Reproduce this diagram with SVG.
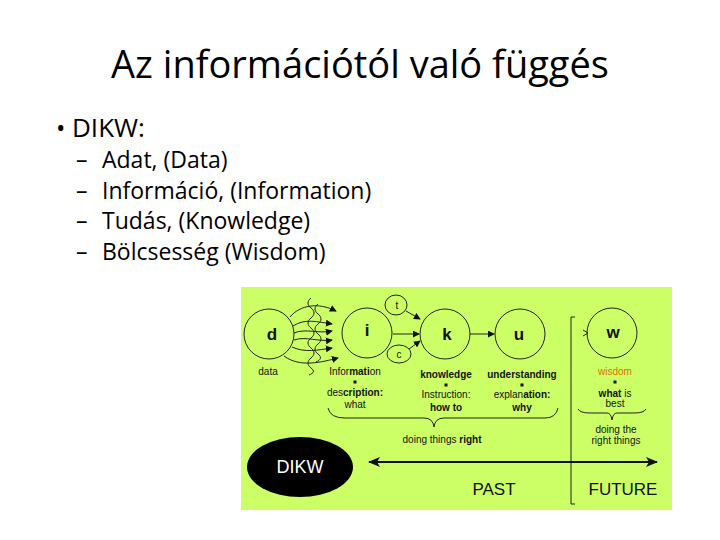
<svg xmlns="http://www.w3.org/2000/svg" width="720" height="540" viewBox="0 0 720 540">
<defs>
<style>
.slide{font-family:"Open Sans","Noto Sans",sans-serif;fill:#000}
.lbl{font-family:"Liberation Sans",Arial,sans-serif;font-size:10px;fill:#111;text-anchor:middle}
.b{font-weight:bold}
.big{font-family:"Liberation Sans",Arial,sans-serif;font-weight:bold;font-size:17px;fill:#111;text-anchor:middle}
.node{fill:none;stroke:#222;stroke-width:1}
.ln{fill:none;stroke:#222;stroke-width:1}
.thick{fill:none;stroke:#111;stroke-width:2}
</style>
<marker id="ah" viewBox="0 0 8 8" refX="7" refY="4" markerWidth="7" markerHeight="7" markerUnits="userSpaceOnUse" orient="auto">
<path d="M0,0 L8,4 L0,8 z" fill="#111"/>
</marker>
<marker id="ah2" viewBox="0 0 12 10" refX="11" refY="5" markerWidth="12" markerHeight="10" markerUnits="userSpaceOnUse" orient="auto-start-reverse">
<path d="M0,0 L12,5 L0,10 L3,5 z" fill="#111"/>
</marker>
</defs>
<rect width="720" height="540" fill="#fff"/>
<g id="title">
<text class="slide" x="360" y="78" font-size="38" text-anchor="middle">Az információtól való függés</text>
</g>
<g id="bullets" class="slide">
<text x="56" y="137" font-size="25">•</text>
<text x="72" y="137" font-size="26">DIKW:</text>
<text x="76" y="168" font-size="23">–</text>
<text x="102" y="168" font-size="23">Adat, (Data)</text>
<text x="76" y="199" font-size="23">–</text>
<text x="102" y="199" font-size="23">Információ, (Information)</text>
<text x="76" y="229" font-size="23">–</text>
<text x="102" y="229" font-size="23">Tudás, (Knowledge)</text>
<text x="76" y="260" font-size="23">–</text>
<text x="102" y="260" font-size="23">Bölcsesség (Wisdom)</text>
</g>
<rect id="panel" x="241" y="287" width="431" height="223" fill="#ccff66"/>
<g id="connectors">
<path class="ln" d="M290,317 C300,305 318,302 336,311" marker-end="url(#ah)"/>
<path class="ln" d="M293,326 C305,318 318,322 332,324" marker-end="url(#ah)"/>
<path class="ln" d="M294,333 C306,328 318,334 332,331" marker-end="url(#ah)"/>
<path class="ln" d="M294,340 C306,336 318,342 332,340" marker-end="url(#ah)"/>
<path class="ln" d="M292,347 C305,353 318,350 332,348" marker-end="url(#ah)"/>
<path class="ln" d="M284,356 C300,368 322,362 338,358" marker-end="url(#ah)"/>
<path class="ln" d="M311,298 c-4,3 -4,7 0,10 c4,3 4,7 0,10 c-4,3 -4,7 0,10 c4,3 4,7 0,10 c-4,3 -4,7 0,10 c4,3 4,7 0,10 c-4,3 -4,7 0,10 c4,3 3,5 -2,7"/>
<path class="ln" d="M318,304 c-4,3 -4,7 0,10 c4,3 4,7 0,10 c-4,3 -4,7 0,10 c4,3 4,7 0,10 c-4,3 -4,7 0,10 c4,3 3,6 -2,8"/>
<line class="ln" x1="393" y1="334" x2="419" y2="334" marker-end="url(#ah)"/>
<line class="ln" x1="470" y1="334" x2="494" y2="334" marker-end="url(#ah)"/>
<line class="ln" x1="406" y1="311" x2="420" y2="319" marker-end="url(#ah)"/>
<line class="ln" x1="409" y1="349" x2="420" y2="341" marker-end="url(#ah)"/>
<path class="ln" d="M583,330 L588,333 L583,336"/>
<path class="ln" d="M328,408 Q330,418 345,418 L424,418 Q433,418 434,427 Q435,418 444,418 L545,418 Q556,418 558,408"/>
<path class="ln" d="M578,409 Q580,413 590,413 L607,413 Q611,413 612,420 Q613,413 617,413 L634,413 Q644,413 646,409"/>
<path class="ln" d="M575,317 L571,317 L571,504 L575,504"/>
<line class="thick" x1="369" y1="462" x2="657" y2="462" marker-start="url(#ah2)" marker-end="url(#ah2)"/>
</g>
<g id="node-d">
<circle class="node" cx="269" cy="334" r="25"/>
<text class="big" x="272" y="340">d</text>
<text class="lbl" x="268" y="375">data</text>
</g>
<g id="node-i">
<circle class="node" cx="367" cy="333" r="25"/>
<text class="big" x="367" y="336">i</text>
<text class="lbl" x="355" y="375">Infor<tspan class="b">mati</tspan>on</text>
<rect x="353.5" y="380.5" width="3" height="3" fill="#111"/>
<text class="lbl" x="355" y="396">des<tspan class="b">cription:</tspan></text>
<text class="lbl" x="355" y="408">what</text>
</g>
<g id="node-t">
<ellipse class="node" cx="396" cy="305" rx="11" ry="10"/>
<text class="lbl" x="397" y="309" font-size="11">t</text>
</g>
<g id="node-c">
<ellipse class="node" cx="399" cy="354" rx="12" ry="9"/>
<text class="lbl" x="399" y="358" font-size="11">c</text>
</g>
<g id="node-k">
<circle class="node" cx="445" cy="334" r="25"/>
<text class="big" x="447" y="340">k</text>
<text class="lbl b" x="446" y="378">knowledge</text>
<rect x="444.5" y="383.5" width="3" height="3" fill="#111"/>
<text class="lbl" x="446" y="398">Instruction:</text>
<text class="lbl b" x="446" y="411">how to</text>
</g>
<g id="node-u">
<circle class="node" cx="520" cy="334" r="25"/>
<text class="big" x="519" y="340">u</text>
<text class="lbl b" x="522" y="378">understanding</text>
<rect x="520.5" y="383.5" width="3" height="3" fill="#111"/>
<text class="lbl" x="522" y="398">explan<tspan class="b">ation:</tspan></text>
<text class="lbl b" x="522" y="411">why</text>
</g>
<g id="node-w">
<circle class="node" cx="612" cy="333" r="25"/>
<text class="big" x="613" y="338" font-size="15">w</text>
<text class="lbl" x="615" y="375" style="fill:#e07000">wisdom</text>
<rect x="613.5" y="380.5" width="3" height="3" fill="#111"/>
<text class="lbl" x="615" y="397"><tspan class="b">what</tspan> is</text>
<text class="lbl" x="615" y="407">best</text>
</g>
<g id="labels">
<text class="lbl" x="442" y="443">doing things <tspan class="b">right</tspan></text>
<text class="lbl" x="616" y="433">doing the</text>
<text class="lbl" x="616" y="444">right things</text>
</g>
<g id="node-dikw">
<ellipse cx="300" cy="467" rx="53" ry="30" fill="#000"/>
<text x="300" y="473" font-family="Liberation Sans, Arial, sans-serif" font-size="18" fill="#fff" text-anchor="middle">DIKW</text>
</g>
<g id="timeline-labels">
<text x="494" y="495" font-family="Liberation Sans, Arial, sans-serif" font-size="17" fill="#111" text-anchor="middle">PAST</text>
<text x="623" y="495" font-family="Liberation Sans, Arial, sans-serif" font-size="17" fill="#111" text-anchor="middle">FUTURE</text>
</g>
</svg>
